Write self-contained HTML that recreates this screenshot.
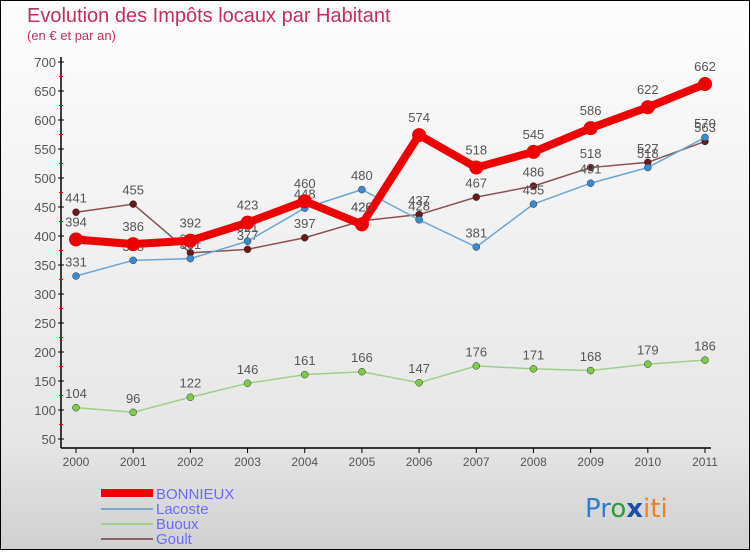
<!DOCTYPE html>
<html><head><meta charset="utf-8"><style>
html,body{margin:0;padding:0}
body{width:750px;height:550px;overflow:hidden;font-family:"Liberation Sans",sans-serif}
#wrap{position:relative;width:748px;height:548px;border:1px solid #000;background:linear-gradient(#fdfdfd,#e6e6e6 80%,#d0d0d0)}
</style></head><body>
<div id="wrap">
<svg id="chart" width="748" height="548">
<text x="26" y="21" font-size="20" fill="#c0305a">Evolution des Impôts locaux par Habitant</text>
<text x="26" y="39" font-size="13" fill="#c0305a">(en € et par an)</text>
<g id="axes"></g><g id="series"></g>
<g>
<rect x="100" y="488" width="52" height="8" fill="#ee0000"/>
<text x="155" y="498" font-size="15" fill="#6a6aff">BONNIEUX</text>
<line x1="100" y1="508" x2="152" y2="508" stroke="#7fa6c7" stroke-width="2"/>
<text x="155" y="513" font-size="15" fill="#6a6aff">Lacoste</text>
<line x1="100" y1="523" x2="152" y2="523" stroke="#9fd08a" stroke-width="2"/>
<text x="155" y="528" font-size="15" fill="#6a6aff">Buoux</text>
<line x1="100" y1="538" x2="152" y2="538" stroke="#8a6464" stroke-width="2"/>
<text x="155" y="543" font-size="15" fill="#6a6aff">Goult</text>
</g>
<g font-size="26" font-family="DejaVu Sans,sans-serif">
<text x="584" y="516"><tspan fill="#2a7fd0">Pr</tspan><tspan fill="#2a9a3a">o</tspan><tspan fill="#1a4fb0" font-weight="bold">x</tspan><tspan fill="#f08020">iti</tspan></text>
</g>
</svg>
</div>
<script>
const years=["2000","2001","2002","2003","2004","2005","2006","2007","2008","2009","2010","2011"];
const yTicks=[50,100,150,200,250,300,350,400,450,500,550,600,650,700];
const bonnieux=[394,386,392,423,460,420,574,518,545,586,622,662];
const lacoste=[331,358,361,391,448,480,428,381,455,491,518,570];
const buoux=[104,96,122,146,161,166,147,176,171,168,179,186];
const goult=[441,455,371,377,397,426,437,467,486,518,527,563];
const NS="http://www.w3.org/2000/svg";
const X=i=>75+i*(629/11);
const Y=v=>438-(v-50)*(377/650);
function mk(tag,attrs,parent){const e=document.createElementNS(NS,tag);for(const k in attrs)e.setAttribute(k,attrs[k]);parent.appendChild(e);return e;}
const axes=document.getElementById('axes');
const ax=mk('line',{x1:60,y1:56,x2:60,y2:447,stroke:'#000','stroke-width':1.5},axes);


const xa=mk('line',{x1:60,y1:447,x2:710,y2:447,stroke:'#000','stroke-width':1.5},axes);


yTicks.forEach(v=>{
 mk('line',{x1:57,x2:63,y1:Y(v),y2:Y(v),stroke:'#000'},axes);
 if(v<700)mk('line',{x1:58,x2:62,y1:Y(v+25),y2:Y(v+25),stroke:'#e00'},axes);
 const t=mk('text',{x:55,y:Y(v)+5,'text-anchor':'end','font-size':13,fill:'#555'},axes);
 t.textContent=v;
 
 
});
years.forEach((y,i)=>{
 mk('line',{x1:X(i),x2:X(i),y1:447,y2:452,stroke:'#000'},axes);
 const t=mk('text',{x:X(i),y:465,'text-anchor':'middle','font-size':12,fill:'#555'},axes);
 t.textContent=y;
 
 
});
const sg=document.getElementById('series');
function series(name,vals,color,mcolor,w,r){
 const g=mk('g',{},sg);
 
 
 const p=mk('polyline',{points:vals.map((v,i)=>X(i)+','+Y(v)).join(' '),fill:'none',stroke:color,'stroke-width':w,'stroke-linejoin':'round'},g);
 
 
 vals.forEach((v,i)=>{
  const c=mk('circle',{cx:X(i),cy:Y(v),r:r,fill:mcolor,stroke:w>4?'none':'#333','stroke-width':0.5},g);
  
  
  const t=mk('text',{x:X(i),y:Y(v)-r-6,'text-anchor':'middle','font-size':13,fill:'#555'},g);
  t.textContent=v;
  
  
 });
}
series('buoux',buoux,'#9fd08a','#7ccc4a',1.5,3.5);
series('goult',goult,'#8a5050','#6a1818',1.5,3.5);
series('lacoste',lacoste,'#6aa6d6','#3a8ad0',1.5,3.5);
series('bonnieux',bonnieux,'#ee0000','#ee0000',8,7);
</script>
</body></html>
